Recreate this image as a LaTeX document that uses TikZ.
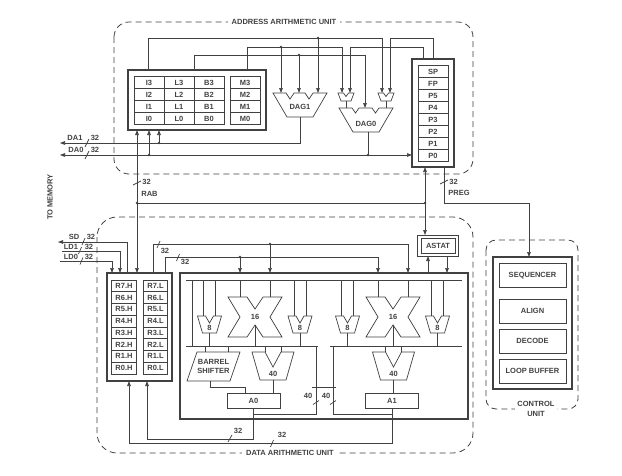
\documentclass[tikz,border=0pt]{standalone}
\usepackage{fontspec}
\setmainfont{Liberation Sans}
\usetikzlibrary{arrows.meta}
\definecolor{ink}{RGB}{65,65,65}

\begin{document}
\begin{tikzpicture}[x=1pt,y=-1pt,color=ink,line width=0.7pt,
    >={Triangle[length=5pt,width=3.6pt]},
    lbl/.style={font=\fontsize{7.5}{9.5}\selectfont\bfseries,inner sep=0pt,align=center},
    reg/.style={draw,lbl,minimum width=30pt,minimum height=12pt},
    rreg/.style={reg,minimum width=24.5pt,minimum height=11.75pt},
    frame/.style={line width=1.2pt},
    unit/.style={line width=0.8pt,dash pattern=on 6pt off 4pt},
    jn/.style={circle,fill,inner sep=0pt,minimum size=2.8pt},
    tag/.style={lbl,fill=white,inner xsep=4pt,inner ysep=1pt}]
  \useasboundingbox (0,0) rectangle (622,475);

  \draw[unit,rounded corners=15pt] (114,22) rectangle (473,174);
  \node[tag] (aau) at (284,22) {ADDRESS ARITHMETIC UNIT};

  \draw[frame] (128,70) rectangle (266,130);
  \foreach \r [count=\k from 0] in {3,2,1,0}{
    \foreach \n/\x in {I/149,L/179,B/209,M/245}
      \node[reg] (\n\r) at (\x,82.5+12*\k) {\n\r};
  }
  \draw[frame] (412,59) rectangle (454,167);
  \foreach \n [count=\k from 0] in {SP,FP,P5,P4,P3,P2,P1,P0}
    \node[reg] (\n) at (433,71.5+12*\k) {\n};

  \draw (273,93) -- (286,93) -- (290,99) -- (294,93) -- (305,93) -- (309,99) -- (313,93) -- (327,93) -- (313,117) -- (287,117) -- cycle;
  \node[lbl] (dag1) at (300,107) {DAG1};
  \foreach \c in {346,386}
    \draw (\c-8,93) -- (\c-2.5,93) -- (\c,96.5) -- (\c+2.5,93) -- (\c+8,93) -- (\c+5,101) -- (\c-5,101) -- cycle;
  \draw (339,108) -- (352,108) -- (355.5,113) -- (359,108) -- (372,108) -- (375.5,113) -- (379,108) -- (393,108) -- (379,132) -- (353,132) -- cycle;
  \node[lbl] (dag0) at (366,124) {DAG0};

  \draw[->] (148,70) |- (382,38) -- (382,93);
  \draw[->] (433,59) |- (390,38) -- (390,93);
  \draw[->] (247,70) |- (342,47) -- (342,93);
  \draw[->] (423,59) |- (350,47) -- (350,93);
  \draw[->] (194,70) |- (365,55) -- (365,108);
  \node[jn] (j1) at (318,38) {};
  \node[jn] (j2) at (281,47) {};
  \node[jn] (j3) at (299,55) {};
  \draw[->] (j1.center) -- (318,93);
  \draw[->] (j2.center) -- (281,93);
  \draw[->] (j3.center) -- (299,93);
  \draw (346,101) -- (346,108) (386,101) -- (386,108);

  \draw[->] (300,117) |- (60,143);
  \draw[->] (368,132) |- (60,155);
  \node[jn] (j4) at (368,155) {};
  \draw[->] (j4.center) -- (412,155);
  \node[jn] (j5) at (159,143) {};
  \node[jn] (j6) at (149,155) {};
  \draw[->] (j5.center) -- (159,130);
  \draw[->] (j6.center) -- (149,130);
  \node[lbl] (da1) at (75,138) {DA1};
  \node[lbl] (da1w) at (95,138) {32};
  \draw (85,147) -- (89,139);
  \node[lbl] (da0) at (76,150) {DA0};
  \node[lbl] (da0w) at (95,150) {32};
  \draw (85,159) -- (89,151);

  \draw[<->] (137,130) -- (137,273);
  \draw (133,185) -- (141,181);
  \node[lbl,anchor=west] (rabw) at (142,182) {32};
  \node[lbl,anchor=west] (rab) at (141,194) {RAB};
  \node[jn] (j7) at (137,203) {};
  \node[jn] (j8) at (425,203) {};
  \draw (j7.center) -- (j8.center);
  \draw[<->] (425,167) -- (425,235);
  \draw[->] (444,167) |- (529,203) -- (529,257);
  \draw (440,184) -- (448,180);
  \node[lbl,anchor=west] (pregw) at (449,182) {32};
  \node[lbl,anchor=west] (preg) at (448,193) {PREG};
  \node[lbl,rotate=90] (mem) at (50,197) {TO MEMORY};

  \draw[unit,rounded corners=20pt] (97,217) rectangle (473,453);
  \node[tag] (dau) at (290,453) {DATA ARITHMETIC UNIT};

  \draw[frame] (107,273) rectangle (172,381);
  \foreach \r [count=\k from 0] in {7,...,0}{
    \node[rreg] (R\r h) at (124,285.9+11.75*\k) {R\r.H};
    \node[rreg] (R\r l) at (155.5,285.9+11.75*\k) {R\r.L};
  }
  \draw[->] (127,273) |- (58,242);
  \draw[->] (62,251) -| (120,273);
  \draw[->] (60,261) -| (112,273);
  \node[lbl] (sd) at (74,237) {SD};
  \node[lbl] (sdw) at (91,237) {32};
  \draw (82,245) -- (85,238);
  \node[lbl] (ld1) at (71,247) {LD1};
  \node[lbl] (ld1w) at (89,247) {32};
  \draw (78.5,254) -- (81.5,247);
  \node[lbl] (ld0) at (71,257) {LD0};
  \node[lbl] (ld0w) at (89,257) {32};
  \draw (80,264.5) -- (83,257.5);

  \draw[->] (153,273) |- (408,244) -- (408,273);
  \draw[->] (165,273) |- (378,257) -- (378,273);
  \node[jn] (j9) at (270,244) {};
  \node[jn] (j10) at (240,257) {};
  \draw[->] (j9.center) -- (270,273);
  \draw[->] (j10.center) -- (240,273);
  \draw (157,248) -- (160,241);
  \node[lbl] (w32a) at (165,251) {32};
  \draw (176.5,261) -- (179.5,254);
  \node[lbl] (w32b) at (185,262) {32};

  \draw (417,235) rectangle (458,256);
  \node[draw,lbl,minimum width=34pt,minimum height=15pt] (astat) at (438,245.5) {ASTAT};
  \draw[->] (428,273) -- (428,256);
  \draw[->] (447,256) -- (447,273);

  \draw[frame] (180,273) rectangle (468,419);
  \draw (186,280) -- (462,280) (186,346) -- (318,346) (330,346) -- (462,346) (192,280) -- (192,346);
  \foreach \c [count=\i] in {209.5,300,347.5,437.5}{
    \draw (\c-12,316) -- (\c-4,316) -- (\c,323) -- (\c+4,316) -- (\c+12,316) -- (\c+7,333) -- (\c-7,333) -- cycle;
    \node[lbl] (mux\i) at (\c,328) {8};
    \draw (\c-6,280) -- (\c-6,316) (\c+6,280) -- (\c+6,316) (\c,333) -- (\c,346);
  }
  \foreach \c [count=\i] in {255,393}{
    \draw (\c-27,297) -- (\c-8,297) -- (\c,309) -- (\c+8,297) -- (\c+27,297) -- (\c+15,317) -- (\c+27,337) -- (\c+8,337) -- (\c,325) -- (\c-8,337) -- (\c-27,337) -- (\c-15,317) -- cycle;
    \node[lbl] (mul\i) at (\c,316.5) {16};
    \draw (\c-15,280) -- (\c-15,297) (\c+15,280) -- (\c+15,297) (\c,325) -- (\c,346);
  }
  \foreach \c/\a/\t [count=\i] in {273/253.5/A0,393.5/392/A1}{
    \draw (\c-21,352) -- (\c-8,352) -- (\c,367) -- (\c+8,352) -- (\c+21,352) -- (\c+13,380) -- (\c-13,380) -- cycle;
    \node[lbl] (add\i) at (\c,374) {40};
    \draw (\c-8,346) -- (\c-8,352) (\c+8,346) -- (\c+8,352) (\c,380) -- (\c,393);
    \node[draw,lbl,minimum width=53pt,minimum height=15pt] (\t) at (\a,400.5) {\t};
  }
  \draw (197,352) -- (240,352) -- (230,381) -- (187,381) -- cycle;
  \node[lbl] (bsh) at (213.5,366.5) {BARREL\\SHIFTER};
  \draw (205,346) -- (205,352) (228,346) -- (228,352);
  \draw (210,381) -- (210,387) -| (245,393);

  \draw[->] (A0.south) -- (253.5,439) -| (147,381);
  \draw (253.5,414) -| (316,346);
  \draw[->] (A1.south) -- (392,443) -| (129,381);
  \draw (392,414) -| (333,346);
  \draw (312,387) -- (336,387);
  \node[lbl] (w40a) at (308,396) {40};
  \draw (313,404.5) -- (319,400.5);
  \node[lbl] (w40b) at (326,396) {40};
  \draw (330,404.5) -- (336,400.5);
  \node[lbl] (w32c) at (238,431) {32};
  \draw (228,442) -- (232,435);
  \node[lbl] (w32d) at (282,435) {32};
  \draw (270.5,447) -- (273.5,440);

  \draw[unit,rounded corners=10pt] (486,240) rectangle (578,409);
  \draw[frame] (493,257) rectangle (572,389);
  \foreach \t/\y [count=\i] in {SEQUENCER/275.3,ALIGN/311.3,DECODE/341.3,LOOP BUFFER/371.3}
    \node[draw,lbl,minimum width=67pt,minimum height=24pt] (cu\i) at (532.5,\y) {\t};
  \node[tag,inner xsep=2pt] (cu) at (536,409) {CONTROL\\UNIT};
\end{tikzpicture}
\end{document}
